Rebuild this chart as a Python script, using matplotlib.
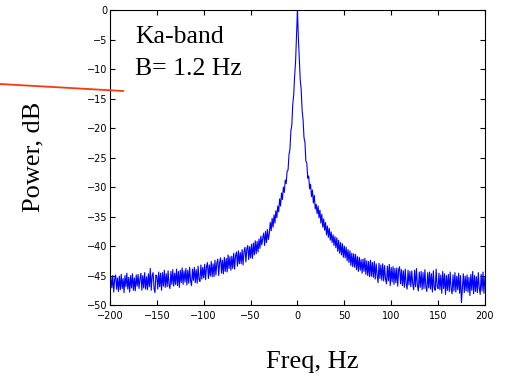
import numpy as np
import matplotlib
matplotlib.use('Agg')
from matplotlib import pyplot as plt
from matplotlib.lines import Line2D

# 频率轴 (Hz)，1 Hz 间隔
freq = np.arange(-200, 201, 1)

# 功率谱 (dB)，从图上逐点读出（含噪声带）
power_left = [
    -47.6, -45.2, -47.1, -45.0, -47.8, -45.6, -44.9, -47.3, -45.4, -47.7,
    -45.1, -47.4, -44.8, -47.2, -45.5, -47.9, -45.0, -46.9, -44.6, -47.3,
    -45.3, -47.8, -45.0, -47.1, -44.7, -47.5, -45.4, -47.6, -44.9, -46.8,
    -44.8, -47.2, -45.6, -44.6, -47.5, -45.0, -47.1, -44.5, -47.3, -45.2,
    -47.4, -44.7, -46.9, -43.8, -47.5, -45.0, -44.5, -47.2, -47.9, -44.9,
    -45.1, -47.3, -44.4, -46.9, -44.6, -47.5, -44.5, -46.8, -44.1, -47.0,
    -44.7, -46.9, -44.2, -46.6, -47.2, -44.3, -46.5, -44.0, -46.8, -44.6,
    -46.5, -43.9, -46.7, -44.3, -47.0, -44.1, -46.2, -43.7, -46.5, -44.2,
    -46.1, -43.8, -46.6, -44.1, -46.3, -43.6, -45.9, -46.7, -43.9, -45.8,
    -43.6, -46.2, -44.0, -46.3, -43.4, -45.7, -46.0, -43.2, -45.6, -43.6,
    -45.4, -43.1, -45.7, -43.5, -42.8, -45.5, -43.2, -45.1, -42.6, -45.2,
    -43.0, -45.2, -42.4, -44.9, -42.9, -42.2, -45.0, -42.7, -42.0, -44.6,
    -42.4, -44.7, -41.9, -44.3, -42.1, -44.4, -41.5, -43.8, -41.8, -44.1,
    -41.7, -43.8, -41.2, -43.9, -41.6, -41.0, -43.4, -40.8, -43.0, -41.1,
    -43.0, -40.6, -43.2, -40.9, -40.2, -42.7, -40.5, -39.9, -42.3, -40.1,
    -42.0, -39.7, -42.1, -39.5, -41.5, -39.1, -41.3, -39.2, -41.0, -38.8,
    -40.4, -38.3, -39.8, -38.6, -37.8, -39.9, -37.5, -39.4, -37.2, -38.9,
    -37.9, -36.0, -37.4, -35.3, -36.8, -34.7, -36.1, -34.0, -35.2, -33.2,
    -34.2, -32.0, -33.2, -31.0, -32.1, -30.0, -30.9, -28.8, -29.4, -27.3,
    -27.1, -24.5, -23.6, -20.5, -19.5, -16.0, -14.4, -11.2, -8.8, -4.3,
]
power_peak = [0.0]
power_right = [
    -4.7, -8.1, -11.8, -13.5, -17.0, -18.5, -21.6, -22.4, -25.6, -25.9,
    -28.5, -28.1, -30.3, -29.5, -31.6, -30.5, -32.7, -31.4, -33.7, -32.9,
    -34.5, -33.2, -35.2, -33.9, -36.1, -34.6, -36.8, -35.4, -37.3, -36.0,
    -38.1, -36.6, -38.5, -37.0, -39.0, -37.6, -39.4, -38.1, -39.9, -38.4,
    -40.3, -38.6, -40.9, -39.0, -41.2, -39.4, -41.5, -39.6, -41.9, -40.0,
    -42.0, -40.2, -42.5, -40.6, -42.8, -40.8, -43.3, -41.2, -43.5, -41.3,
    -43.6, -41.4, -44.0, -41.8, -44.3, -41.9, -44.1, -42.3, -44.6, -42.2,
    -44.3, -42.1, -44.8, -42.5, -45.0, -42.6, -45.2, -42.4, -45.1, -42.8,
    -45.3, -42.6, -45.6, -43.0, -44.9, -46.2, -42.9, -45.5, -43.2, -45.8,
    -43.0, -45.9, -43.3, -45.6, -46.4, -43.4, -45.9, -43.1, -46.7, -43.6,
    -46.1, -43.5, -46.5, -43.8, -46.2, -43.7, -46.8, -44.0, -43.5, -46.4,
    -44.0, -46.7, -44.2, -47.0, -43.9, -46.5, -47.3, -44.1, -46.6, -44.3,
    -46.9, -44.2, -46.4, -47.4, -44.1, -46.9, -43.8, -46.7, -47.6, -44.4,
    -47.0, -44.3, -47.4, -44.5, -47.2, -44.0, -46.9, -47.7, -44.5, -47.1,
    -44.4, -47.3, -44.7, -47.8, -44.2, -47.1, -47.5, -43.9, -46.8, -47.2,
    -44.6, -47.4, -44.9, -48.0, -44.3, -47.2, -44.7, -48.2, -45.0, -47.5,
    -44.8, -47.7, -44.4, -47.3, -48.1, -44.9, -47.6, -44.5, -47.8, -45.1,
    -47.4, -44.6, -48.0, -45.0, -49.6, -47.2, -44.7, -47.9, -45.1, -47.6,
    -44.9, -47.8, -45.3, -48.4, -44.8, -47.5, -44.3, -48.1, -45.0, -47.7,
    -45.2, -47.9, -44.5, -47.1, -48.2, -44.8, -47.6, -44.4, -48.0, -45.3,
]
power = power_left + power_peak + power_right

xticks = [-200, -150, -100, -50, 0, 50, 100, 150, 200]
yticks = [-50, -45, -40, -35, -30, -25, -20, -15, -10, -5, 0]

SERIF = ['Liberation Serif', 'DejaVu Serif']

fig = plt.figure(figsize=(5.08, 3.78), dpi=100)
ax = fig.add_axes([0.2165, 0.193, 0.738, 0.780])

ax.plot(freq, power, color='#0000ff', linewidth=0.8)

ax.set_xlim(-200, 200)
ax.set_ylim(-50, 0)
ax.set_xticks(xticks)
ax.set_yticks(yticks)
ax.tick_params(direction='in', top=True, right=True, length=3.5, width=0.8,
               labelsize=7, pad=2)
ax.tick_params(axis='x', pad=4)
for s in ax.spines.values():
    s.set_linewidth(0.8)

# 左上角注释
ax.text(0.067, 0.888, 'Ka-band', transform=ax.transAxes, fontsize=18.5,
        family=SERIF, va='baseline', ha='left')
ax.text(0.067, 0.780, 'B= 1.2 Hz', transform=ax.transAxes, fontsize=18.5,
        family=SERIF, va='baseline', ha='left')

# 坐标轴标题
fig.text(33 / 508, 1 - 157 / 378, 'Power, dB', rotation=90, fontsize=19,
         family=SERIF, ha='center', va='center')
fig.text(312 / 508, 1 - 362 / 378, 'Freq, Hz', fontsize=19,
         family=SERIF, ha='center', va='center')

# 红色指示线
fig.add_artist(Line2D([0, 123 / 508], [1 - 84 / 378, 1 - 91 / 378],
                      transform=fig.transFigure, color='#f53a10', linewidth=1.3))

fig.savefig('out.png', dpi=100)
